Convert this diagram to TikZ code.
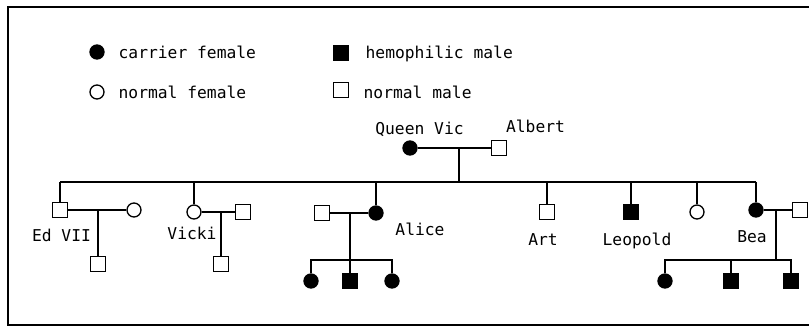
\documentclass[tikz,border=0pt]{standalone}
\usepackage{fontspec}
\setmainfont{DejaVu Sans Mono}
\begin{document}
\begin{tikzpicture}[x=1pt,y=-1pt,
  line width=1.3pt,
  fem/.style={circle,draw,fill=white,minimum size=14pt,inner sep=0pt},
  carf/.style={circle,draw,fill=black,minimum size=14pt,inner sep=0pt},
  male/.style={rectangle,draw,fill=white,minimum size=15pt,inner sep=0pt},
  hemm/.style={rectangle,draw,fill=black,minimum size=15pt,inner sep=0pt},
  lbl/.style={font=\fontsize{16.3}{18}\selectfont,inner sep=0pt,anchor=base},
  leg/.style={font=\fontsize{16.3}{18}\selectfont,inner sep=0pt,anchor=base west}]
\useasboundingbox (0,0) rectangle (809,328);
\begin{scope}
\clip (0,0) rectangle (809,328);
\draw[line width=2pt] (8,7) rectangle (830,325);
\end{scope}
% legend
\node[carf] (lcf) at (97,52) {};
\node[leg] (tcf) at (118,59) {carrier female};
\node[fem] (lnf) at (97,92) {};
\node[leg] (tnf) at (118,99) {normal female};
\node[hemm] (lhm) at (341,53) {};
\node[leg] (thm) at (365,59) {hemophilic male};
\node[male] (lnm) at (341,90) {};
\node[leg] (tnm) at (363,99) {normal male};
% generation 1
\node[carf] (vic) at (410,148) {};
\node[male] (albert) at (499,148) {};
\node[lbl] (tvic) at (419.5,135) {Queen Vic};
\node[lbl] (talb) at (535.5,133) {Albert};
\coordinate (m0) at (459,148);
\coordinate (sib) at (0,182);
% generation 2
\node[male] (ed) at (60,210) {};
\node[fem] (edw) at (134,210) {};
\node[male] (edk) at (98,264) {};
\node[lbl] (ted) at (61.5,242) {Ed VII};
\node[fem] (vicki) at (194,212) {};
\node[male] (vh) at (243,212) {};
\node[male] (vk) at (221,264) {};
\node[lbl] (tvicki) at (192,240) {Vicki};
\node[male] (ah) at (322,213) {};
\node[carf] (alice) at (376,213) {};
\node[lbl] (talice) at (420,236) {Alice};
\node[carf] (ak1) at (311,281) {};
\node[hemm] (ak2) at (350,281) {};
\node[carf] (ak3) at (392,281) {};
\coordinate (asib) at (0,260);
\node[male] (art) at (547,212) {};
\node[lbl] (tart) at (543,246) {Art};
\node[hemm] (leo) at (631,212) {};
\node[lbl] (tleo) at (637,246) {Leopold};
\node[fem] (nf) at (697,212) {};
\node[carf] (bea) at (756,210) {};
\node[male] (beh) at (800,210) {};
\node[lbl] (tbea) at (752,243) {Bea};
\coordinate (bdrop) at (776,210);
\coordinate (bsib) at (0,260);
\node[carf] (bk1) at (665,281) {};
\node[hemm] (bk2) at (731,281) {};
\node[hemm] (bk3) at (791,281) {};
% connectors
\draw (vic) -- (albert);
\draw (m0) -- (m0 |- sib);
\draw (ed |- sib) -- (bea |- sib);
\foreach \n in {ed,vicki,alice,art,leo,nf,bea} \draw (\n |- sib) -- (\n.north);
\draw (ed) -- (edw);
\draw (edk |- ed) -- (edk.north);
\draw (vicki) -- (vh);
\draw (vk |- vicki) -- (vk.north);
\draw (ah) -- (alice);
\draw (ak2 |- alice) -- (ak2.north);
\draw (ak1.north) -- (ak1 |- asib) -- (ak3 |- asib) -- (ak3.north);
\draw (bea) -- (beh);
\draw (bdrop) -- (bdrop |- bsib);
\draw (bk1.north) -- (bk1 |- bsib) -- (bk3 |- bsib) -- (bk3.north);
\draw (bk2 |- bsib) -- (bk2.north);
\end{tikzpicture}
\end{document}
